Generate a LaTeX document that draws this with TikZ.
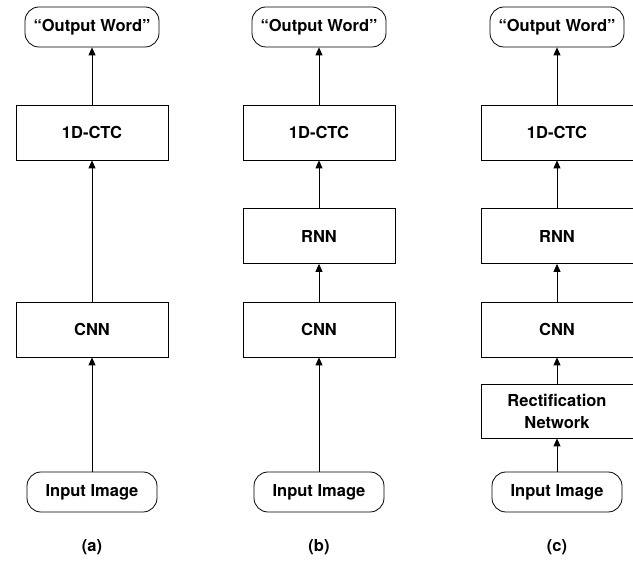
\documentclass[tikz,border=0pt]{standalone}
\usepackage{fontspec}
\setmainfont{TeX Gyre Heros}
\usetikzlibrary{arrows.meta}
\begin{document}
\begin{tikzpicture}[x=1pt,y=-1pt,
  every node/.style={font=\bfseries\fontsize{16.5}{22}\selectfont, inner sep=0pt},
  blk/.style={draw, line width=0.8pt, minimum width=152pt, minimum height=55pt, align=center},
  term/.style={draw, line width=0.8pt, rounded corners=14pt, minimum height=40pt},
  arr/.style={line width=0.8pt, -{Triangle[length=8pt,width=7pt]}},
  sublabel/.style={font=\bfseries\fontsize{16.5}{20}\selectfont}]
\useasboundingbox (0,0) rectangle (633,561);
% (a)
\node[term, minimum width=134pt] (aout) at (92,27) {“Output Word”};
\node[blk] (actc) at (92,132.5) {1D-CTC};
\node[blk] (acnn) at (92,329.5) {CNN};
\node[term, minimum width=130pt] (ain) at (92,492) {Input Image};
\node[sublabel] (alab) at (92,547) {(a)};
\draw[arr] (ain) -- (acnn);
\draw[arr] (acnn) -- (actc);
\draw[arr] (actc) -- (aout);
% (b)
\node[term, minimum width=134pt] (bout) at (319,27) {“Output Word”};
\node[blk] (bctc) at (319,132.5) {1D-CTC};
\node[blk] (brnn) at (319,236) {RNN};
\node[blk] (bcnn) at (319,329.5) {CNN};
\node[term, minimum width=130pt] (bin) at (319,492) {Input Image};
\node[sublabel] (blab) at (319,547) {(b)};
\draw[arr] (bin) -- (bcnn);
\draw[arr] (bcnn) -- (brnn);
\draw[arr] (brnn) -- (bctc);
\draw[arr] (bctc) -- (bout);
% (c)
\node[term, minimum width=134pt] (cout) at (557,27) {“Output Word”};
\node[blk] (cctc) at (557,132.5) {1D-CTC};
\node[blk] (crnn) at (557,236) {RNN};
\node[blk] (ccnn) at (557,329.5) {CNN};
\node[blk, minimum height=54pt] (crect) at (557,411) {Rectification\\Network};
\node[term, minimum width=130pt] (cin) at (557,492) {Input Image};
\node[sublabel] (clab) at (557,547) {(c)};
\draw[arr] (cin) -- (crect);
\draw[arr] (crect) -- (ccnn);
\draw[arr] (ccnn) -- (crnn);
\draw[arr] (crnn) -- (cctc);
\draw[arr] (cctc) -- (cout);
\end{tikzpicture}
\end{document}
